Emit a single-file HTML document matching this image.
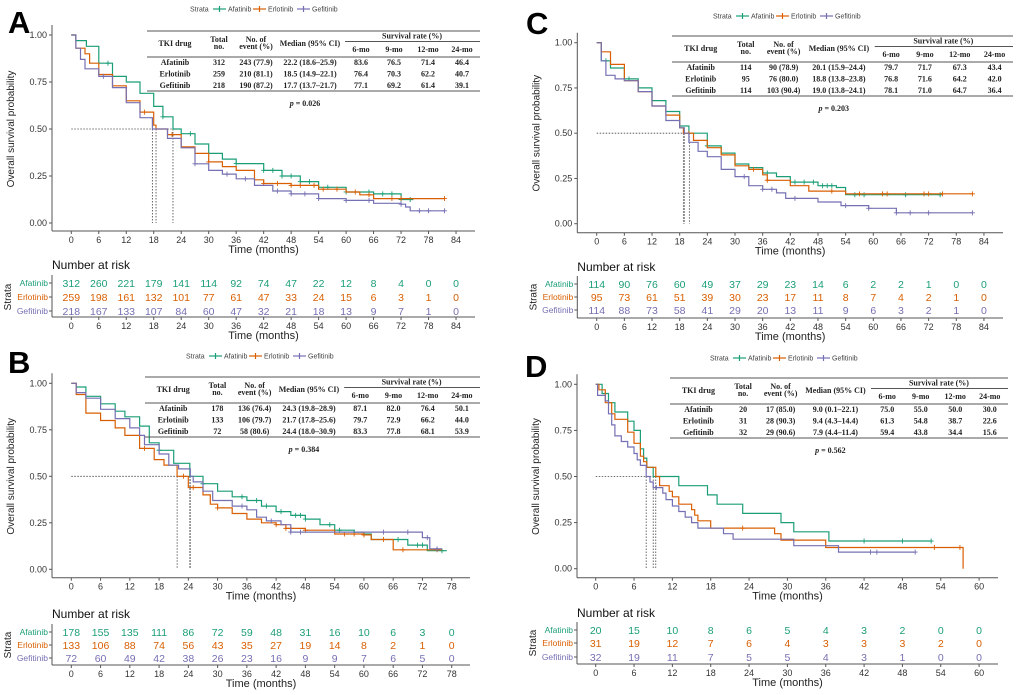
<!DOCTYPE html>
<html><head><meta charset="utf-8">
<style>
html,body{margin:0;padding:0;background:#fff;}
svg{display:block;font-family:"Liberation Sans",sans-serif;}
.tab{font-family:"Liberation Serif",serif;font-weight:bold;font-size:8px;fill:#222;}
</style></head>
<body>
<svg id="fig" width="1020" height="695" viewBox="0 0 1020 695" xmlns="http://www.w3.org/2000/svg"></svg>
<script>
// ===== Panel A data =====
const A_afa_t=[0,1,3.3,6,9,12,15,18,20,22.2,24,27,30,33,36,42,46,50,54,60,66,72,74.7];
const A_afa_s=[1,0.97,0.94,0.85,0.78,0.75,0.69,0.62,0.565,0.5,0.475,0.42,0.37,0.34,0.316,0.28,0.25,0.22,0.19,0.165,0.155,0.125,0.125];
const A_afa_c=[8,20,26,36,42,44,46,48,50,52,56,60,65,68,70,72,74];
const A_erl_t=[0,1,3,4,6,9,12,15,18,18.5,21,24,27,30,33,36,40,42,48,54,60,63,66,81.5];
const A_erl_s=[1,0.93,0.9,0.85,0.79,0.73,0.65,0.59,0.52,0.5,0.47,0.405,0.37,0.325,0.3,0.28,0.23,0.21,0.2,0.18,0.165,0.15,0.13,0.13];
const A_erl_c=[16,22,30,42,45,48,50,53,55,58,62,65,70,72,81.5];
const A_gef_t=[0,1,2,3,6,9,12,15,17.7,21,24,27,30,33,36,40,44,48,54,60,66,72,73,74,81.5];
const A_gef_s=[1,0.93,0.87,0.82,0.78,0.72,0.64,0.56,0.5,0.45,0.4,0.315,0.28,0.26,0.235,0.2,0.17,0.155,0.13,0.12,0.105,0.1,0.085,0.065,0.065];
const A_gef_c=[7,27,34,38,45,48,51,54,60,65,72,76,78,81.5];
const A_risk_afa=[312,260,221,179,141,114,92,74,47,22,12,8,4,0,0];
const A_risk_erl=[259,198,161,132,101,77,61,47,33,24,15,6,3,1,0];
const A_risk_gef=[218,167,133,107,84,60,47,32,21,18,13,9,7,1,0];
const A_medians=[22.2,18.5,17.7];
const A_rows=[["Afatinib","312","243 (77.9)","22.2 (18.6–25.9)","83.6","76.5","71.4","46.4"],["Erlotinib","259","210 (81.1)","18.5 (14.9–22.1)","76.4","70.3","62.2","40.7"],["Gefitinib","218","190 (87.2)","17.7 (13.7–21.7)","77.1","69.2","61.4","39.1"]];
const A_p="0.026";
// ===== Panel B data =====
const B_afa_t=[0,1,3,6,9,11,14,16,18,21,24.3,27,30,33,36,39,42,45,48,51,54,58,60,61.5,69,73,77];
const B_afa_s=[1,0.98,0.93,0.89,0.85,0.82,0.77,0.68,0.64,0.57,0.5,0.46,0.42,0.39,0.37,0.34,0.31,0.29,0.27,0.24,0.21,0.2,0.19,0.16,0.13,0.1,0.1];
const B_afa_c=[18,27,35,38,40,43,46,47,48,53,55,58,60,67,71,72,76];
const B_erl_t=[0,1,3,6,9,11,14,17,19,21.7,24,27,28.5,30,33,36,39,42,44,48,54,60,61.5,66,76];
const B_erl_s=[1,0.94,0.84,0.8,0.76,0.72,0.65,0.59,0.56,0.5,0.44,0.4,0.35,0.33,0.3,0.27,0.25,0.24,0.22,0.21,0.19,0.185,0.16,0.105,0.105];
const B_erl_c=[15,23,25,30,42,44,45,48,56,58,60,64,68,75];
const B_gef_t=[0,1,3,6,9,12,14,15,18,20,22,24.4,25,27,29,33,36,38,40,43,45,54,72,73.5,76];
const B_gef_s=[1,0.95,0.92,0.86,0.81,0.76,0.72,0.67,0.62,0.56,0.54,0.5,0.47,0.42,0.37,0.34,0.32,0.28,0.26,0.24,0.2,0.2,0.17,0.11,0.11];
const B_gef_c=[35,41,45,47,64,69,73,75];
const B_risk_afa=[178,155,135,111,86,72,59,48,31,16,10,6,3,0];
const B_risk_erl=[133,106,88,74,56,43,35,27,19,14,8,2,1,0];
const B_risk_gef=[72,60,49,42,38,26,23,16,9,9,7,6,5,0];
const B_medians=[24.3,21.7,24.4];
const B_rows=[["Afatinib","178","136 (76.4)","24.3 (19.8–28.9)","87.1","82.0","76.4","50.1"],["Erlotinib","133","106 (79.7)","21.7 (17.8–25.6)","79.7","72.9","66.2","44.0"],["Gefitinib","72","58 (80.6)","24.4 (18.0–30.9)","83.3","77.8","68.1","53.9"]];
const B_p="0.384";
// ===== Panel C data =====
const C_afa_t=[0,1,3,6,9,12,15,18,20,24,27,30,33,36,39,42,48,52,54,74.5];
const C_afa_s=[1,0.9,0.86,0.8,0.75,0.68,0.62,0.54,0.5,0.43,0.39,0.33,0.31,0.28,0.26,0.23,0.21,0.2,0.16,0.16];
const C_afa_c=[2,7,24,37,43,45,47,49,50,51,56,58,67,74.5];
const C_erl_t=[0,1,3,6,9,12,15,18,18.8,21,24,27,30,33,36,37,42,46,54,81.5];
const C_erl_s=[1,0.95,0.88,0.79,0.73,0.65,0.6,0.53,0.5,0.46,0.42,0.38,0.32,0.3,0.27,0.24,0.21,0.18,0.165,0.165];
const C_erl_c=[20,34,37,51,57,62,63,71,72,75,81.5];
const C_gef_t=[0,1,2,4,6,9,12,15,18,19,20,22,24,27,30,33,36,39,41,48,53,59,65,81.5];
const C_gef_s=[1,0.9,0.82,0.8,0.79,0.73,0.65,0.57,0.53,0.5,0.45,0.4,0.37,0.3,0.26,0.21,0.19,0.17,0.14,0.12,0.1,0.085,0.06,0.06];
const C_gef_c=[32,36,38,43,54,59,65,68,72,81.5];
const C_risk_afa=[114,90,76,60,49,37,29,23,14,6,2,2,1,0,0];
const C_risk_erl=[95,73,61,51,39,30,23,17,11,8,7,4,2,1,0];
const C_risk_gef=[114,88,73,58,41,29,20,13,11,9,6,3,2,1,0];
const C_medians=[20.1,18.8,19.0];
const C_rows=[["Afatinib","114","90 (78.9)","20.1 (15.9–24.4)","79.7","71.7","67.3","43.4"],["Erlotinib","95","76 (80.0)","18.8 (13.8–23.8)","76.8","71.6","64.2","42.0"],["Gefitinib","114","103 (90.4)","19.0 (13.8–24.1)","78.1","71.0","64.7","36.4"]];
const C_p="0.203";
// ===== Panel D data =====
const D_afa_t=[0,1,2,3,5,6,7,7.5,8,9,13,17.5,19,23,29,31,36.5,52.5];
const D_afa_s=[1,0.95,0.9,0.85,0.8,0.75,0.65,0.6,0.55,0.5,0.45,0.4,0.35,0.3,0.25,0.2,0.15,0.15];
const D_afa_c=[42,48,52.5];
const D_erl_t=[0,0.5,1.5,2.5,3,5,6,7,7.5,8,9.4,10,11.5,12,13,15,15.5,16,18,28,29,36,57.5];
const D_erl_s=[1,0.97,0.9,0.84,0.81,0.74,0.68,0.61,0.58,0.55,0.5,0.45,0.42,0.39,0.35,0.32,0.29,0.26,0.22,0.19,0.155,0.115,0];
const D_erl_c=[23,53,57];
const D_gef_t=[0,0.3,1.5,2,2.5,3,4,5,6,6.5,7,7.9,8.5,9,10.5,11,12,13,14,15,16,20,21.5,31,38,50];
const D_gef_s=[1,0.94,0.91,0.84,0.78,0.72,0.69,0.66,0.625,0.59,0.56,0.5,0.47,0.44,0.41,0.375,0.34,0.31,0.28,0.25,0.22,0.19,0.16,0.125,0.09,0.09];
const D_gef_c=[9.5,43,44,50];
const D_risk_afa=[20,15,10,8,6,5,4,3,2,0,0];
const D_risk_erl=[31,19,12,7,6,4,3,3,3,2,0];
const D_risk_gef=[32,19,11,7,5,5,4,3,1,0,0];
const D_medians=[9.0,9.4,7.9];
const D_rows=[["Afatinib","20","17 (85.0)","9.0 (0.1–22.1)","75.0","55.0","50.0","30.0"],["Erlotinib","31","28 (90.3)","9.4 (4.3–14.4)","61.3","54.8","38.7","22.6"],["Gefitinib","32","29 (90.6)","7.9 (4.4–11.4)","59.4","43.8","34.4","15.6"]];
const D_p="0.562";

const COLORS=["#1b9e77","#d95f02","#7570b3"];
const NAMES=["Afatinib","Erlotinib","Gefitinib"];
const NS="http://www.w3.org/2000/svg";
const fig=document.getElementById('fig');
function mk(tag,attrs,parent,text){const e=document.createElementNS(NS,tag);for(const k in attrs)e.setAttribute(k,attrs[k]);if(text!==undefined)e.textContent=text;(parent||fig).appendChild(e);return e;}

const panels=[
 {id:"A",L:52,x0:71.3,pm:4.58,y1:35,y0:223,axY:231,R:475,tmax:84,tabL:147,tabR:480,tabT:31,legX:190,legY:9,letX:8,letY:33,nT:265,nRows:[283,297,311],nAx:317,
  series:[[A_afa_t,A_afa_s,A_afa_c],[A_erl_t,A_erl_s,A_erl_c],[A_gef_t,A_gef_s,A_gef_c]],risk:[A_risk_afa,A_risk_erl,A_risk_gef],med:A_medians,rows:A_rows,p:A_p},
 {id:"B",L:52,x0:71.3,pm:4.877,y1:383.3,y0:569.3,axY:577.7,R:470,tmax:78,tabL:145,tabR:480,tabT:377,legX:186,legY:356,letX:8,letY:373,nT:614,nRows:[632,645,658],nAx:665,
  series:[[B_afa_t,B_afa_s,B_afa_c],[B_erl_t,B_erl_s,B_erl_c],[B_gef_t,B_gef_s,B_gef_c]],risk:[B_risk_afa,B_risk_erl,B_risk_gef],med:B_medians,rows:B_rows,p:B_p},
 {id:"C",L:577.3,x0:596.7,pm:4.61,y1:42.7,y0:223.7,axY:232.7,R:1003,tmax:84,tabL:672,tabR:1013,tabT:36,legX:713,legY:16,letX:526,letY:34,nT:267,nRows:[284,297,310],nAx:318,
  series:[[C_afa_t,C_afa_s,C_afa_c],[C_erl_t,C_erl_s,C_erl_c],[C_gef_t,C_gef_s,C_gef_c]],risk:[C_risk_afa,C_risk_erl,C_risk_gef],med:C_medians,rows:C_rows,p:C_p},
 {id:"D",L:577,x0:595.7,pm:6.39,y1:384.3,y0:568.7,axY:577.7,R:998,tmax:60,tabL:670,tabR:1008,tabT:378,legX:710,legY:358,letX:525,letY:377,nT:613,nRows:[630,643,657],nAx:664,
  series:[[D_afa_t,D_afa_s,D_afa_c],[D_erl_t,D_erl_s,D_erl_c],[D_gef_t,D_gef_s,D_gef_c]],risk:[D_risk_afa,D_risk_erl,D_risk_gef],med:D_medians,rows:D_rows,p:D_p}
];

panels.forEach(P=>{
 const g=mk('g',{});
 
 
 const X=t=>P.x0+t*P.pm;
 const Y=s=>P.y0-(P.y0-P.y1)*s;
 const let_=mk('text',{x:P.letX,y:P.letY,'font-size':31,'font-weight':'bold',fill:'#000'},g,P.id);
 
 
 const lg=mk('g',{'font-size':7,fill:'#444'},g);
 
 
 mk('text',{x:P.legX,y:P.legY+2.5},lg,'Strata');
 const offs=[23,63,107];
 NAMES.forEach((n,i)=>{
  const lx=P.legX+offs[i];
  const le=mk('g',{},lg);
  
  
  mk('line',{x1:lx,x2:lx+13,y1:P.legY,y2:P.legY,stroke:COLORS[i],'stroke-width':1.2},le);
  mk('line',{x1:lx+6.5,x2:lx+6.5,y1:P.legY-3,y2:P.legY+3,stroke:COLORS[i],'stroke-width':1.2},le);
  mk('text',{x:lx+15,y:P.legY+2.5},le,n);
 });
 const ax=mk('g',{stroke:'#555','stroke-width':1,fill:'none'},g);
 
 
 mk('line',{x1:P.L,x2:P.L,y1:P.y1-10,y2:P.axY},ax);
 mk('line',{x1:P.L,x2:P.R,y1:P.axY,y2:P.axY},ax);
 [0,0.25,0.5,0.75,1].forEach(v=>{
  mk('line',{x1:P.L-3,x2:P.L,y1:Y(v),y2:Y(v)},ax);
  const t=mk('text',{x:P.L-5,y:Y(v)+3,'font-size':9,fill:'#333',stroke:'none','text-anchor':'end'},g,v.toFixed(2));
  
  
 });
 const yt=mk('text',{x:0,y:0,'font-size':10,fill:'#222','text-anchor':'middle',transform:`translate(${P.L-38},${(P.y1+P.y0)/2}) rotate(-90)`},g,'Overall survival probability');
 
 
 for(let t=0;t<=P.tmax;t+=6){
  mk('line',{x1:X(t),x2:X(t),y1:P.axY,y2:P.axY+3},ax);
  mk('text',{x:X(t),y:P.axY+12,'font-size':9,fill:'#333','text-anchor':'middle'},g,t);
  mk('line',{x1:X(t),x2:X(t),y1:P.nAx,y2:P.nAx+3},ax);
  mk('text',{x:X(t),y:P.nAx+12,'font-size':9,fill:'#333','text-anchor':'middle'},g,t);
 }
 const xt=mk('text',{x:(P.L+P.R)/2,y:P.axY+22,'font-size':11,fill:'#222','text-anchor':'middle'},g,'Time (months)');
 
 
 mk('text',{x:(P.L+P.R)/2,y:P.nAx+22,'font-size':11,fill:'#222','text-anchor':'middle'},g,'Time (months)');
 const mm=Math.max(...P.med);
 const md=mk('g',{stroke:'#444','stroke-width':0.8,'stroke-dasharray':'1.5,1.5',fill:'none'},g);
 
 
 mk('line',{x1:X(0),x2:X(mm),y1:Y(0.5),y2:Y(0.5)},md);
 P.med.forEach(m=>mk('line',{x1:X(m),x2:X(m),y1:Y(0.5),y2:Y(0)},md));
 P.series.forEach((sr,i)=>{
  const [T,S,Cc]=sr;
  let d=`M${X(T[0])},${Y(S[0])}`;
  for(let k=1;k<T.length;k++){d+=` H${X(T[k]).toFixed(1)} V${Y(S[k]).toFixed(1)}`;}
  const path=mk('path',{d:d,stroke:COLORS[i],'stroke-width':1.2,fill:'none'},g);
  
  
  Cc.forEach(c=>{
   let s=S[0];for(let k=0;k<T.length;k++){if(T[k]<=c)s=S[k];}
   const cm=mk('path',{d:`M${X(c)-2.5},${Y(s)} h5 M${X(c)},${Y(s)-2.5} v5`,stroke:COLORS[i],'stroke-width':0.9},g);
   
   
  });
 });
 const W=P.tabR-P.tabL, sc=W/333, T0=P.tabT;
 const tb=mk('g',{class:'tab'},g);
 
 
 const cx=[28,72,109,163,214,247,281,315].map(v=>P.tabL+v*sc);
 const ln={stroke:'#555','stroke-width':1};
 mk('line',Object.assign({x1:P.tabL,x2:P.tabR,y1:T0,y2:T0},ln),tb);
 mk('line',Object.assign({x1:P.tabL+198*sc,x2:P.tabR,y1:T0+10.5,y2:T0+10.5},ln),tb);
 mk('line',Object.assign({x1:P.tabL,x2:P.tabR,y1:T0+26,y2:T0+26},ln),tb);
 mk('line',Object.assign({x1:P.tabL,x2:P.tabR,y1:T0+60,y2:T0+60},ln),tb);
 const tx=(x,y,s)=>mk('text',{x:x,y:y,'text-anchor':'middle'},tb,s);
 tx(P.tabL+265*sc,T0+7.5,'Survival rate (%)');
 tx(cx[0],T0+15,'TKI drug');
 tx(cx[1],T0+11,'Total');tx(cx[1],T0+18,'no.');
 tx(cx[2],T0+11,'No. of');tx(cx[2],T0+18,'event (%)');
 tx(cx[3],T0+15,'Median (95% CI)');
 ['6-mo','9-mo','12-mo','24-mo'].forEach((h,k)=>tx(cx[4+k],T0+21,h));
 P.rows.forEach((r,ri)=>r.forEach((v,ci)=>tx(cx[ci],T0+34+ri*11.5,v)));
 const pt=mk('text',{x:P.tabL+158*sc,y:T0+75,'text-anchor':'middle',class:'tab'},g);
 mk('tspan',{'font-style':'italic'},pt,'p');
 mk('tspan',{},pt,' = '+P.p);
 
 
 const nt=mk('text',{x:P.L,y:P.nT+4,'font-size':12,fill:'#111'},g,'Number at risk');
 
 
 mk('line',{x1:P.L,x2:P.L,y1:P.nRows[0]-8,y2:P.nAx,stroke:'#555'},g);
 mk('line',{x1:P.L,x2:P.R,y1:P.nAx,y2:P.nAx,stroke:'#555'},g);
 mk('text',{x:0,y:0,'font-size':10,fill:'#222','text-anchor':'middle',transform:`translate(${P.L-41},${P.nRows[1]}) rotate(-90)`},g,'Strata');
 P.risk.forEach((arr,i)=>{
  const ry=P.nRows[i];
  mk('line',{x1:P.L-3,x2:P.L,y1:ry,y2:ry,stroke:'#555'},g);
  mk('text',{x:P.L-4,y:ry+3,'font-size':8.5,fill:COLORS[i],'text-anchor':'end'},g,NAMES[i]);
  arr.forEach((v,k)=>{
   const rt=mk('text',{x:X(k*6),y:ry+4,'font-size':10.5,fill:COLORS[i],'text-anchor':'middle'},g,v);
   
   
  });
 });
});
</script>
</body></html>
